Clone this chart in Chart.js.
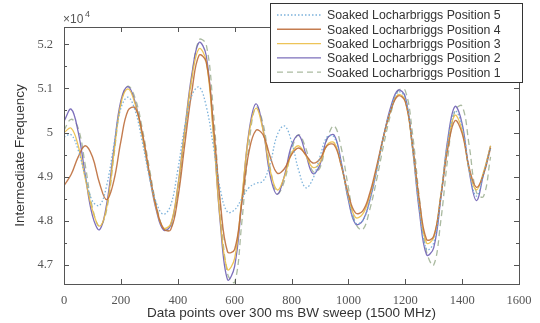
<!DOCTYPE html>
<html>
<head>
<meta charset="utf-8">
<script src="https://cdn.jsdelivr.net/npm/chart.js@4/dist/chart.umd.min.js"></script>
<style>
  html, body { margin: 0; padding: 0; background: #fff; }
  #wrap { width: 540px; height: 323px; }
</style>
</head>
<body>
<div id="wrap"><canvas id="chart" width="540" height="323"></canvas></div>
<script>
// x positions (data points)
const xPoints = [0, 25, 50, 75, 100, 125, 150, 175, 200, 225, 250, 275, 300, 325, 350, 375, 400, 425, 450, 475,
  500, 525, 550, 575, 600, 625, 650, 675, 700, 725, 750, 775, 800, 825, 850, 875, 900, 925, 950, 975,
  1000, 1025, 1050, 1075, 1100, 1125, 1150, 1175, 1200, 1225, 1250, 1275, 1300, 1325, 1350, 1375, 1400, 1425, 1450, 1475, 1500];

const pos5 = [49900, 49950, 49600, 49000, 48450, 48350, 48800, 49700, 50550, 50800, 50500, 49800, 49000, 48400, 48150, 48350, 49150, 50150, 50850, 51030,
  50600, 49700, 48700, 48200, 48250, 48500, 48750, 48850, 48900, 49300, 49950, 50150, 49800, 49150, 48750, 48950, 49450, 49900, 49900, 49300,
  48500, 47950, 48000, 48450, 49150, 49950, 50550, 50920, 50780, 49700, 48250, 47350, 47500, 48550, 49800, 50480, 50150, 49150, 48560, 49050, 49650];

const pos4 = [48800, 49050, 49450, 49700, 49450, 48850, 48480, 48900, 49800, 50500, 50560, 50000, 49100, 48300, 47820, 47800, 48500, 49750, 50950, 51750,
  51600, 50200, 48400, 47300, 47350, 48400, 49550, 50050, 49950, 49450, 49080, 49180, 49500, 49650, 49500, 49310, 49400, 49700, 49720, 49250,
  48600, 48180, 48220, 48620, 49250, 49950, 50520, 50830, 50700, 49750, 48450, 47580, 47650, 48550, 49650, 50270, 49980, 49200, 48760, 49050, 49650];

const pos3 = [50000, 50100, 49700, 48950, 48250, 47880, 48300, 49500, 50650, 50990, 50650, 49930, 49050, 48270, 47840, 47930, 48760, 50050, 51250, 51900,
  51620, 49980, 47990, 46900, 47150, 48500, 49950, 50550, 50050, 49150, 48700, 49000, 49520, 49700, 49480, 49210, 49320, 49720, 49770, 49250,
  48550, 48080, 48150, 48560, 49200, 49930, 50520, 50860, 50720, 49680, 48350, 47500, 47620, 48590, 49750, 50390, 50040, 49150, 48700, 49100, 49700];

const pos2 = [50250, 50530, 50010, 49030, 48120, 47800, 48380, 49610, 50720, 51040, 50690, 49950, 49030, 48230, 47790, 47900, 48770, 50090, 51340, 52040,
  51750, 50050, 47920, 46670, 46970, 48420, 50000, 50650, 50070, 49020, 48600, 49020, 49700, 49940, 49520, 49070, 49270, 49860, 49940, 49330,
  48470, 47930, 48000, 48460, 49170, 49950, 50600, 50960, 50810, 49680, 48190, 47230, 47390, 48510, 49870, 50590, 50200, 49120, 48460, 49050, 49700];

const pos1 = [50050, 50300, 50100, 49250, 48300, 47870, 48250, 49450, 50650, 51050, 50780, 50100, 49200, 48350, 47830, 47820, 48600, 49900, 51250, 52100,
  52000, 50500, 48300, 46800, 46600, 47950, 49700, 50580, 50200, 49200, 48620, 48900, 49600, 49950, 49650, 49120, 49200, 49850, 50150, 49650,
  48750, 47950, 47800, 48250, 48950, 49750, 50450, 50950, 50950, 50000, 48500, 47300, 47000, 48000, 49450, 50500, 50600, 49700, 48650, 48550, 49450];

const seriesLabels = ["Soaked Locharbriggs Position 5", "Soaked Locharbriggs Position 4", "Soaked Locharbriggs Position 3",
  "Soaked Locharbriggs Position 2", "Soaked Locharbriggs Position 1"];
const yTicks = [47000, 48000, 49000, 50000, 51000, 52000];
const xTicks = [0, 200, 400, 600, 800, 1000, 1200, 1400, 1600];

const toXY = function (ys) {
  return ys.map(function (v, i) { return { x: xPoints[i], y: v }; });
};

const lineSet = function (label, ys, color, dash, width) {
  return {
    label: label,
    data: toXY(ys),
    borderColor: color,
    borderWidth: width,
    borderDash: dash,
    pointRadius: 0,
    fill: false,
    tension: 0.4,
  };
};

const datasets = [
  lineSet(seriesLabels[0], pos5, "rgba(110,170,215,0.9)", [1.5, 2], 1.3),
  lineSet(seriesLabels[1], pos4, "rgba(190,110,60,0.9)", [], 1.4),
  lineSet(seriesLabels[2], pos3, "rgba(235,190,70,0.9)", [], 1.3),
  lineSet(seriesLabels[3], pos2, "rgba(110,95,180,0.9)", [], 1.3),
  lineSet(seriesLabels[4], pos1, "rgba(165,182,155,0.95)", [6, 4], 1.3),
];

// draws the box, inside ticks, y labels, x10^4 and the legend the matlab way
const decor = {
  id: "decor",
  afterDraw(chart) {
    const c = chart.ctx;
    const a = chart.chartArea;
    const xs = chart.scales.x;
    const ys = chart.scales.y;
    c.save();
    c.strokeStyle = "#555";
    c.lineWidth = 1;
    c.strokeRect(a.left + 0.5, a.top + 0.5, a.right - a.left, a.bottom - a.top);
    c.beginPath();
    xTicks.forEach(function (v) {
      const px = Math.round(xs.getPixelForValue(v)) + 0.5;
      c.moveTo(px, a.bottom); c.lineTo(px, a.bottom - 5);
      c.moveTo(px, a.top); c.lineTo(px, a.top + 5);
    });
    for (let v = 47000; v <= 52000; v += 500) {
      const py = Math.round(ys.getPixelForValue(v)) + 0.5;
      const len = v % 1000 === 0 ? 5 : 3;
      c.moveTo(a.left, py); c.lineTo(a.left + len, py);
      c.moveTo(a.right, py); c.lineTo(a.right - len, py);
    }
    c.stroke();

    // y tick labels
    c.fillStyle = "#555";
    c.font = "12.5px 'Liberation Serif', 'Times New Roman', serif";
    c.textAlign = "right";
    c.textBaseline = "middle";
    yTicks.forEach(function (v) {
      c.fillText(String(v / 10000), a.left - 11, ys.getPixelForValue(v));
    });
    c.textAlign = "left";

    // exponent label
    c.textBaseline = "alphabetic";
    c.font = "12px 'Liberation Sans', Arial, sans-serif";
    c.fillText("\u00d710", a.left - 1, 23);
    c.font = "9px 'Liberation Sans', Arial, sans-serif";
    c.fillText("4", a.left + 21, 17);

    // legend
    const bx = 270, by = 3, bw = 252, bh = 79;
    c.fillStyle = "#fff";
    c.fillRect(bx, by, bw, bh);
    c.strokeStyle = "#333";
    c.strokeRect(bx + 0.5, by + 0.5, bw, bh);
    c.font = "12.3px 'Liberation Sans', Arial, sans-serif";
    c.textBaseline = "middle";
    chart.data.datasets.forEach(function (ds, i) {
      const ry = 15 + i * 14.3;
      c.strokeStyle = ds.borderColor;
      c.lineWidth = ds.borderWidth;
      c.setLineDash(ds.borderDash);
      c.beginPath();
      c.moveTo(277, ry); c.lineTo(321, ry);
      c.stroke();
      c.setLineDash([]);
      c.fillStyle = "#333";
      c.fillText(ds.label, 327, ry + 1);
    });
    c.restore();
  },
};

const ctx = document.getElementById("chart").getContext("2d");
const chart = new Chart(ctx, {
  type: "line",
  data: { datasets: datasets },
  options: {
    responsive: false,
    animation: false,
    layout: { padding: { top: 27, right: 21, left: 0, bottom: 0 } },
    plugins: { legend: { display: false }, tooltip: { enabled: false } },
    scales: {
      x: {
        type: "linear",
        min: 0,
        max: 1600,
        afterFit: function (s) { s.height = 39; },
        afterBuildTicks: function (s) { s.ticks = xTicks.map(function (v) { return { value: v }; }); },
        grid: { display: false },
        border: { display: false },
        ticks: {
          padding: 1,
          color: "#555",
          font: { family: "'Liberation Serif', 'Times New Roman', serif", size: 12.5 },
          maxRotation: 0,
          callback: function (v) { return String(v); },
        },
        title: {
          display: true,
          text: "Data points over 300 ms BW sweep (1500 MHz)",
          color: "#333",
          font: { family: "'Liberation Sans', Arial, sans-serif", size: 13.5 },
          padding: { top: 0, bottom: 2 },
        },
      },
      y: {
        type: "linear",
        min: 46570,
        max: 52390,
        afterFit: function (s) { s.width = 64; },
        afterBuildTicks: function (s) { s.ticks = yTicks.map(function (v) { return { value: v }; }); },
        grid: { display: false },
        border: { display: false },
        ticks: { display: false },
        title: {
          display: true,
          text: "Intermediate Frequency",
          color: "#333",
          font: { family: "'Liberation Sans', Arial, sans-serif", size: 13.5 },
          padding: { top: 12, bottom: 0 },
        },
      },
    },
  },
  plugins: [decor],
});
</script>
</body>
</html>
